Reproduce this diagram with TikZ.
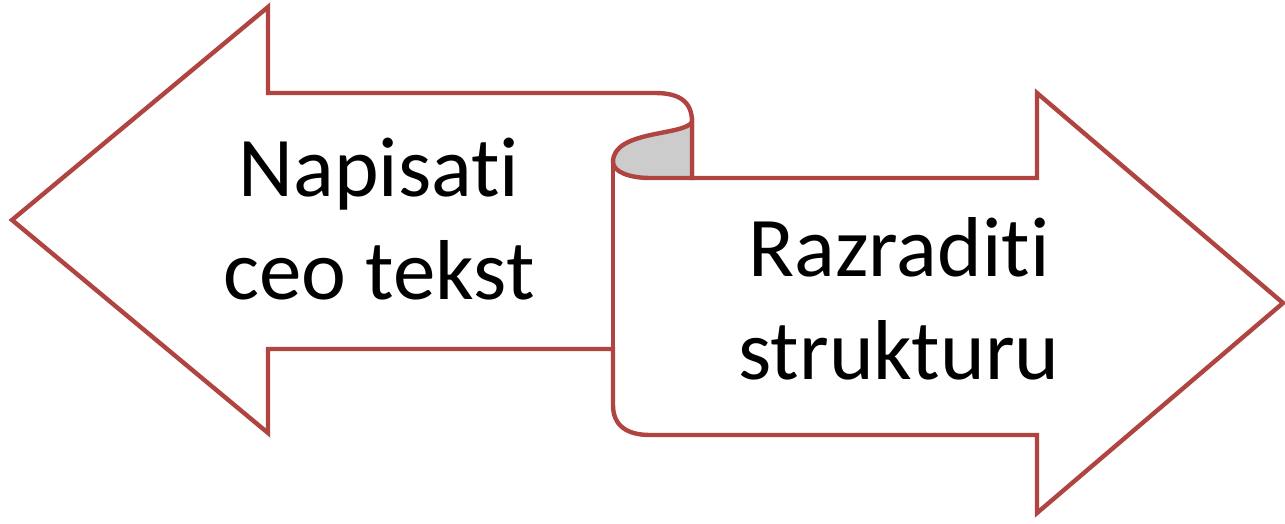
\documentclass[tikz,border=0pt]{standalone}
\usepackage{fontspec}
\setmainfont{Carlito}[Ligatures=NoCommon]
\definecolor{outline}{RGB}{176,68,64}
\definecolor{curlgray}{RGB}{204,204,204}
\begin{document}
\begin{tikzpicture}[x=0.5pt, y=-0.5pt, line width=2.2pt,
	outlined/.style = {draw=outline, line join=miter},
	words/.style = {align=center, inner sep=0pt, font=\fontsize{42.5}{51.5}\selectfont}]

	\useasboundingbox (0,0) rectangle (1285,524);

	% outline of both arrows and the scroll
	\draw[outlined, fill=white] (12,220) -- (268,7) -- (268,93) -- (655,93)
		.. controls (680,93) and (692,102) .. (692,122) -- (692,178)
		-- (1037,178) -- (1037,93) -- (1283,303) -- (1037,513) -- (1037,435)
		-- (650,435) .. controls (626,435) and (613,425) .. (613,405)
		-- (613,349) -- (268,349) -- (268,433) -- cycle;

	% curl of the scroll
	\draw[outlined, fill=curlgray] (692,122) .. controls (684,136) and (613,130) .. (613,162)
		.. controls (613,172) and (630,178) .. (650,178) -- (692,178) -- cycle;
	\draw[outlined] (613,162) -- (613,349);

	\node[words] (write) at (379,219) {Napisati\\ceo tekst};
	\node[words] (build) at (899,299) {Razraditi\\strukturu};
\end{tikzpicture}
\end{document}
